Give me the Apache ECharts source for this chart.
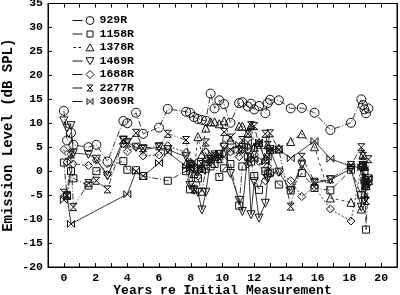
<!DOCTYPE html>
<html><head><meta charset="utf-8">
<script src="https://cdn.jsdelivr.net/npm/echarts@6/dist/echarts.min.js"></script>
<style>html,body{margin:0;padding:0;background:#fff}#c{width:400px;height:295px}</style>
</head><body><div id="c"></div>
<script>
const years = [0, 0.2, 0.45, 0.6, 1.55, 2.05, 2.75, 3.75, 4.0, 4.55, 5.0, 6.0, 6.55, 7.7, 7.95, 8.2, 8.45, 8.7, 8.95, 9.25, 9.5, 9.8, 10.1, 10.5, 11.05, 11.25, 11.6, 11.8, 12.0, 12.3, 12.7, 12.85, 13.0, 13.55, 14.3, 15.0, 15.8, 16.8, 18.1, 18.75, 18.85, 18.95, 19.05, 19.2];
const seriesNames = ['929R', '1158R', '1378R', '1469R', '1688R', '2277R', '3069R'];
const v929R = [12.6, 6.4, 8.0, 5.5, 5.0, 5.5, 2.0, 10.5, 10.0, 12.2, 7.8, 9.1, 13.0, 12.4, 12.2, 11.3, 10.9, 10.7, 10.5, 16.2, 13.1, 14.8, 14.0, 10.1, 14.2, 14.4, 13.5, 14.1, 12.9, 13.6, 12.1, 14.2, 14.9, 14.8, 13.1, 13.2, 12.2, 8.6, 10.1, 15.0, 13.8, 12.9, 12.1, 13.1];
const v1158R = [1.8, -5.2, 0.0, -1.5, -3.0, 0.0, null, 2.1, 0.3, 0.2, -1.0, null, -2.0, 0.0, -3.8, 0.5, -1.5, -4.3, 0.5, 1.0, 1.5, -1.2, 0.6, 1.5, -7.2, 1.0, 3.0, 2.0, -1.0, -3.9, 0.0, -0.5, -0.3, -2.8, -4.0, -0.4, -3.5, -4.0, 0.3, -5.0, 1.0, 0.0, -12.2, -1.5];
const v1378R = [null, null, null, null, null, null, null, null, null, null, null, null, null, 1.5, 1.0, -0.5, 7.2, 3.5, 9.0, 10.3, 10.3, 9.9, 10.5, 6.5, 9.4, 9.4, 8.0, 9.6, 5.0, 6.0, 2.5, 5.5, 4.5, 4.8, 6.2, 7.8, 5.1, -5.6, -6.5, -7.9, 3.5, 1.0, -3.0, -2.0];
const v1469R = [10.5, 9.0, 9.5, 3.8, 3.5, 2.5, -1.0, 6.5, 6.0, 5.0, 4.5, 5.0, 4.5, 3.0, -3.0, -4.0, -4.4, -8.1, -4.4, 2.5, 3.0, 3.5, 5.0, -0.5, -6.1, -8.4, 4.0, -9.1, -2.2, -9.8, -6.7, -1.5, 4.5, -0.2, -4.0, 1.3, -2.5, -1.8, 0.5, -7.5, 1.2, -6.2, -3.0, -2.0];
const v1688R = [4.5, 1.9, 3.5, 1.5, 1.2, 2.3, -0.7, 5.7, 4.1, 5.0, 3.2, 3.4, 5.3, 3.9, 1.5, 0.5, -1.0, 0.5, 4.0, 2.0, 3.0, 2.5, 5.5, 4.0, 3.0, 4.5, 1.5, 2.5, 3.5, 2.0, -2.0, 1.0, -0.5, -0.2, -2.0, -5.3, -3.3, -7.9, -10.4, 0.8, 1.2, -2.0, -3.0, -2.5];
const v2277R = [-4.5, -5.0, 3.5, -7.5, -2.5, -2.0, -3.8, 6.5, 5.8, 8.0, 4.8, 5.2, 7.8, 6.5, 1.5, -3.8, 0.5, 1.5, 6.0, 2.5, 3.5, 2.5, 8.2, 7.0, 4.5, 6.5, 7.8, 9.6, 9.4, 5.5, 7.8, 5.5, 7.9, 4.5, -7.4, 3.0, -2.2, -1.7, 1.3, 5.0, 3.2, 1.2, -6.2, 2.5];
const v3069R = [-6.0, -5.2, -11.0, null, null, null, null, null, -4.8, 0.0, -1.0, 1.7, 4.0, 1.0, 0.5, 2.0, 1.0, 0.0, 2.0, 2.5, 3.0, 3.5, 3.0, 4.5, 5.5, 4.5, 6.0, 5.0, 2.5, 6.0, 2.0, 3.0, 4.5, 4.5, 2.7, null, 6.3, 2.6, 1.0, 0.8, 1.2, -2.0, -3.0, -1.5];
const xTickLabels = ['0', '2', '4', '6', '8', '10', '12', '14', '16', '18', '20'];
const yTickLabels = ['-20', '-15', '-10', '-5', '0', '5', '10', '15', '20', '25', '30', '35'];

const allValues = [v929R, v1158R, v1378R, v1469R, v1688R, v2277R, v3069R];
const FONT = '"Liberation Mono", "DejaVu Sans Mono", monospace';

const HOUR = 'path://M0,0 L10,0 L0,10 L10,10 Z';
const BOW = 'path://M0,0 L0,10 L10,0 L10,10 Z';
const markers = [
  {symbol: 'circle', size: 9, rotate: 0},
  {symbol: 'rect', size: 7, rotate: 0},
  {symbol: 'triangle', size: 8, rotate: 0},
  {symbol: 'triangle', size: 8, rotate: 180},
  {symbol: 'diamond', size: 8, rotate: 0},
  {symbol: HOUR, size: 7, rotate: 0},
  {symbol: BOW, size: 7, rotate: 0}
];
const dashes = [[6, 2, 1, 2], [6, 2, 1, 2], [3, 3], 'solid', [2, 2], [6, 2, 1, 2, 1, 2], 'solid'];

const B = 'M0,0 M22,9 ';
const L = 'M0,4.5 L10,4.5 ';
const legendIcons = [
  'path://' + B + L + 'M21.5,4.5 A4,4 0 1 1 13.5,4.5 A4,4 0 1 1 21.5,4.5 Z',
  'path://' + B + L + 'M14.5,1.5 L20.5,1.5 L20.5,7.5 L14.5,7.5 Z',
  'path://' + B + 'M1,4.5 L3.5,4.5 M6,4.5 L8.5,4.5 ' + 'M17.5,0.8 L21.5,7.8 L13.5,7.8 Z',
  'path://' + B + L + 'M13.5,1.2 L21.5,1.2 L17.5,8.2 Z',
  'path://' + B + L + 'M17.5,0.5 L21.5,4.5 L17.5,8.5 L13.5,4.5 Z',
  'path://' + B + L + 'M14.5,1.5 L20.5,1.5 L14.5,7.5 L20.5,7.5 Z',
  'path://' + B + L + 'M14.5,1.5 L14.5,7.5 L20.5,1.5 L20.5,7.5 Z'
];

const chart = echarts.init(document.getElementById('c'), null, {renderer: 'canvas'});
const series = seriesNames.map((name, i) => ({
  name: name,
  type: 'line',
  data: years.map((x, j) => [x, allValues[i][j]]).filter(d => d[1] !== null),
  symbol: markers[i].symbol,
  symbolSize: markers[i].size,
  symbolRotate: markers[i].rotate,
  showAllSymbol: true,
  itemStyle: {color: 'rgba(0,0,0,0)', borderColor: '#111', borderWidth: 1},
  lineStyle: {color: '#222', width: 0.9, type: dashes[i]},
  emphasis: {disabled: true},
  z: 2
}));

const xLabelSet = new Set(xTickLabels);
const yLabelSet = new Set(yTickLabels);
const axisCommon = {
  axisLine: {show: true, onZero: false, lineStyle: {color: '#000', width: 1}},
  axisTick: {show: true, inside: true, length: 4, lineStyle: {color: '#000', width: 1}},
  splitLine: {show: false}
};
const labelStyle = {color: '#000', fontFamily: FONT, fontWeight: 'bold', fontSize: 11.5};

chart.setOption({
  animation: false,
  backgroundColor: '#fff',
  grid: {left: 48, right: 3, top: 3.5, bottom: 28, outerBoundsMode: 'none', containLabel: false, show: true, borderColor: '#000', borderWidth: 1},
  legend: {
    orient: 'vertical', left: 72, top: 14.5, padding: 0, itemGap: 1.5,
    itemWidth: 22, itemHeight: 9, selectedMode: false,
    data: seriesNames.map((n, i) => ({name: n, icon: legendIcons[i]})),
    itemStyle: {color: 'rgba(0,0,0,0)', borderColor: '#111', borderWidth: 1},
    textStyle: {color: '#000', fontFamily: FONT, fontWeight: 'bold', fontSize: 11.5}
  },
  xAxis: [
    Object.assign({
      type: 'value', min: -1, max: 21, interval: 1, position: 'bottom',
      name: 'Years re Initial Measurement', nameLocation: 'middle', nameGap: 17.5, nameMoveOverlap: false,
      nameTextStyle: {color: '#000', fontFamily: FONT, fontWeight: 'bold', fontSize: 13},
      axisLabel: Object.assign({margin: 5, formatter: v => xLabelSet.has(String(v)) ? String(v) : ''}, labelStyle)
    }, axisCommon),
    Object.assign({
      type: 'value', min: -1, max: 21, interval: 1, position: 'top', axisLabel: {show: false}
    }, axisCommon)
  ],
  yAxis: [
    Object.assign({
      type: 'value', min: -20, max: 35, interval: 5, position: 'left',
      name: 'Emission Level (dB SPL)', nameLocation: 'middle', nameGap: 33, nameMoveOverlap: false,
      nameTextStyle: {color: '#000', fontFamily: FONT, fontWeight: 'bold', fontSize: 14},
      axisLabel: Object.assign({margin: 5, formatter: v => yLabelSet.has(String(v)) ? String(v) : ''}, labelStyle)
    }, axisCommon),
    Object.assign({
      type: 'value', min: -20, max: 35, interval: 5, position: 'right', axisLabel: {show: false}
    }, axisCommon)
  ],
  series: series
});
</script></body></html>
